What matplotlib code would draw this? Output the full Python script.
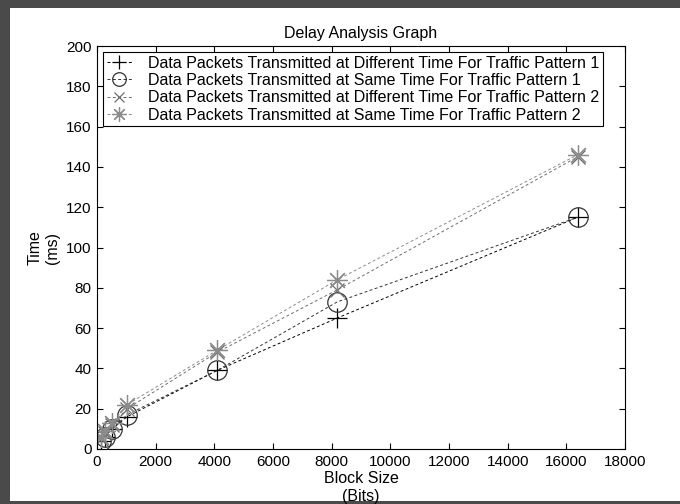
import matplotlib
matplotlib.use('Agg')
import matplotlib.pyplot as plt
from matplotlib.patches import Rectangle

plt.rcParams['font.family'] = ['Liberation Sans', 'DejaVu Sans']

# block sizes (bits)
block = [128, 256, 512, 1024, 4096, 8192, 16384]

# delay (ms)
diff_tp1 = [4, 6, 10, 16, 39, 65, 115]
same_tp1 = [4, 6, 10, 17, 39, 73, 115]
diff_tp2 = [5, 8, 12, 20, 48, 79, 145]
same_tp2 = [6, 9, 13, 22, 49, 84, 146]

names = ['Data Packets Transmitted at Different Time For Traffic Pattern 1',
         'Data Packets Transmitted at Same Time For Traffic Pattern 1',
         'Data Packets Transmitted at Different Time For Traffic Pattern 2',
         'Data Packets Transmitted at Same Time For Traffic Pattern 2']

fig = plt.figure(figsize=(6.8, 5.04), dpi=100)
fig.patch.set_facecolor('#4a4a4a')
# white sheet behind the plot
fig.patches.append(Rectangle((10/680, 3/504), 670/680, 493/504,
                             transform=fig.transFigure, facecolor='white',
                             edgecolor='none', zorder=-10))

ax = fig.add_axes([97/680, 55/504, 528/680, 403/504])

dash = (0, (3, 2.5))
ax.plot(block, diff_tp1, linestyle=dash, color='#000000', lw=0.7,
        marker='+', ms=15, mew=0.9, label=names[0])
ax.plot(block, same_tp1, linestyle=dash, color='#333333', lw=0.7,
        marker='o', ms=14, mfc='none', mew=0.9, label=names[1])
ax.plot(block, diff_tp2, linestyle=dash, color='#6e6e6e', lw=0.7,
        marker='x', ms=10, mew=0.9, label=names[2])
ax.plot(block, same_tp2, linestyle=dash, color='#8c8c8c', lw=0.7,
        marker=(8, 2, 0), ms=15, mew=0.9, label=names[3])

ax.set_xlim(0, 18000)
ax.set_ylim(0, 200)
ax.set_xticks(range(0, 18001, 2000))
ax.set_yticks(range(0, 201, 20))
ax.tick_params(direction='in', top=True, right=True, labelsize=11, length=4, pad=4)
for s in ax.spines.values():
    s.set_linewidth(0.8)

ax.set_title('Delay Analysis Graph', fontsize=11.5, pad=6)
ax.set_xlabel('Block Size\n(Bits)', fontsize=11.5, labelpad=2)
ax.set_ylabel('Time\n(ms)', fontsize=11.5, labelpad=4)

leg = ax.legend(loc='upper left', fontsize=11.5, fancybox=False, framealpha=1,
                edgecolor='black', handlelength=1.6, handletextpad=1.0,
                borderpad=0.2, labelspacing=0.15, borderaxespad=0.4,
                markerscale=0.7)
leg.get_frame().set_linewidth(0.8)

fig.savefig('out.png', dpi=100, facecolor=fig.get_facecolor())
